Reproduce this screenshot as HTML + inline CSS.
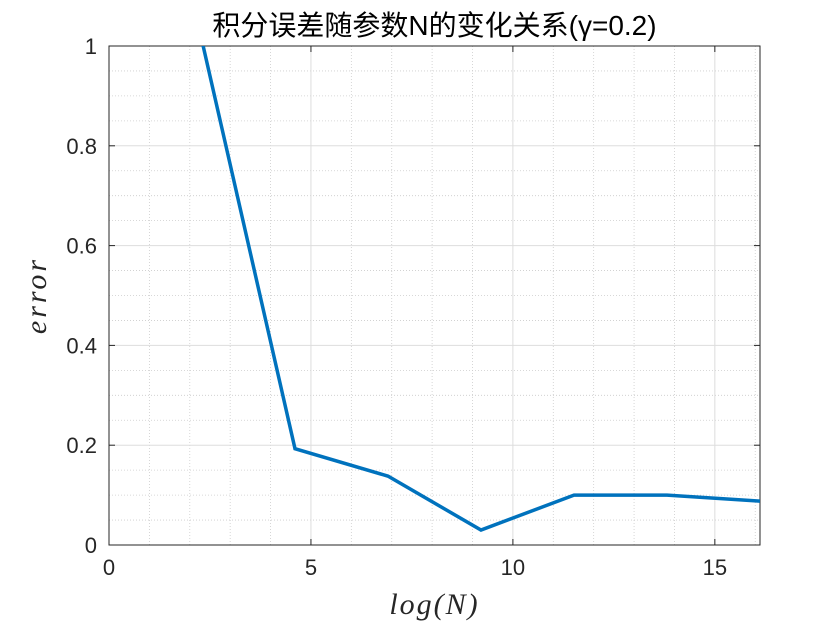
<!DOCTYPE html>
<html><head><meta charset="utf-8"><style>body{margin:0;background:#fff}svg{display:block}</style></head>
<body>
<svg id="c" width="840" height="630" xmlns="http://www.w3.org/2000/svg"></svg>
<script>
const xValues=[2.303,4.605,6.908,9.210,11.513,13.816,16.118];
const errValues=[1.01,0.193,0.138,0.030,0.100,0.100,0.088];
const xTicks=[0,5,10,15];
const yTicks=[0,0.2,0.4,0.6,0.8,1];
const yTickLabels=['0','0.2','0.4','0.6','0.8','1'];
const L=109,R=760,T=46,B=545,XMAX=16.118;
const sx=v=>L+v/XMAX*(R-L), sy=v=>B-v*(B-T);
const NS='http://www.w3.org/2000/svg',svg=document.getElementById('c');
function mk(t,a,p){const e=document.createElementNS(NS,t);for(const k in a)e.setAttribute(k,a[k]);(p||svg).appendChild(e);return e;}
const defs=mk('defs',{});const cp=mk('clipPath',{id:'clip'},defs);mk('rect',{x:L,y:T,width:R-L,height:B-T},cp);
const grid=mk('g',{});


for(let i=1;i<=16;i++){if(i%5)mk('line',{x1:sx(i),x2:sx(i),y1:T,y2:B,stroke:'#ccc','stroke-width':0.8,'stroke-dasharray':'1,2'},grid);}
for(let i=1;i<20;i++){if(i%4)mk('line',{x1:L,x2:R,y1:sy(i*0.05),y2:sy(i*0.05),stroke:'#ccc','stroke-width':0.8,'stroke-dasharray':'1,2'},grid);}
xTicks.forEach(v=>{if(v>0)mk('line',{x1:sx(v),x2:sx(v),y1:T,y2:B,stroke:'#ddd','stroke-width':1},grid);});
yTicks.forEach(v=>{if(v>0&&v<1)mk('line',{x1:L,x2:R,y1:sy(v),y2:sy(v),stroke:'#ddd','stroke-width':1},grid);});
mk('rect',{x:L,y:T,width:R-L,height:B-T,fill:'none',stroke:'#262626','stroke-width':1});
xTicks.forEach(v=>{mk('line',{x1:sx(v),x2:sx(v),y1:B,y2:B-6,stroke:'#262626'});mk('line',{x1:sx(v),x2:sx(v),y1:T,y2:T+6,stroke:'#262626'});
const t=mk('text',{x:sx(v),y:B+30,'text-anchor':'middle','font-size':22,fill:'#262626','font-family':'Liberation Sans, sans-serif'});t.textContent=v;

});
yTicks.forEach((v,i)=>{mk('line',{x1:L,x2:L+6,y1:sy(v),y2:sy(v),stroke:'#262626'});mk('line',{x1:R,x2:R-6,y1:sy(v),y2:sy(v),stroke:'#262626'});
const t=mk('text',{x:L-12,y:sy(v)+8,'text-anchor':'end','font-size':22,fill:'#262626','font-family':'Liberation Sans, sans-serif'});t.textContent=yTickLabels[i];

});
const line=mk('polyline',{points:xValues.map((x,i)=>sx(x)+','+sy(errValues[i])).join(' '),fill:'none',stroke:'#0072BD','stroke-width':3.5,'clip-path':'url(#clip)'});


const title=mk('text',{x:(L+R)/2,y:35,'text-anchor':'middle','font-size':28,fill:'#000','font-family':'Liberation Sans, Noto Sans CJK SC, sans-serif'});
title.textContent='积分误差随参数N的变化关系(γ=0.2)';


const xl=mk('text',{x:(L+R)/2,y:614,'text-anchor':'middle','font-size':30,'font-style':'italic','letter-spacing':2,fill:'#262626','font-family':'Liberation Serif, serif'});
xl.textContent='log(N)';


const yl=mk('text',{x:46,y:(T+B)/2,'text-anchor':'middle','font-size':30,'font-style':'italic','letter-spacing':3,fill:'#262626','font-family':'Liberation Serif, serif',transform:'rotate(-90 46 '+((T+B)/2)+')'});
yl.textContent='error';


</script>
</body></html>
